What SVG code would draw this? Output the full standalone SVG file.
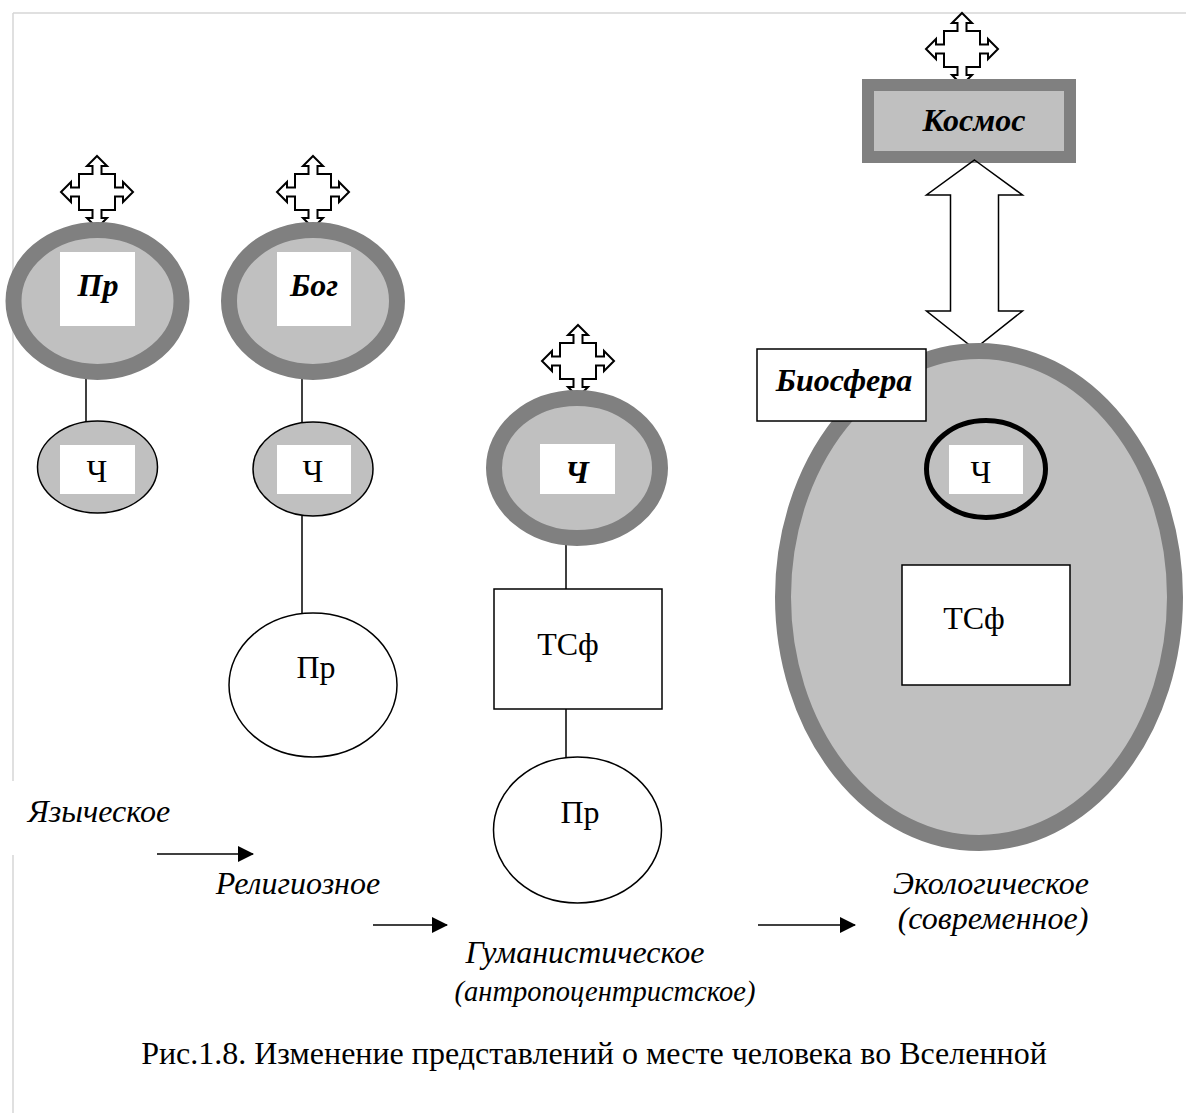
<svg xmlns="http://www.w3.org/2000/svg" width="1186" height="1113" viewBox="0 0 1186 1113">
<style>
.page{stroke:#d6d6d6;stroke-width:1.5;fill:none}
.outer{fill:#c0c0c0;stroke:#808080;stroke-width:16}
.small{fill:#c0c0c0;stroke:#000;stroke-width:1.5}
.plain{fill:#fff;stroke:#000;stroke-width:1.5}
.lbl{fill:#fff;stroke:none}
.conn{stroke:#000;stroke-width:1.5;fill:none}
.quad{fill:#fff;stroke:#000;stroke-width:2;stroke-linejoin:miter}
.bi{font-family:"Liberation Serif","Times New Roman",serif;font-weight:bold;font-style:italic;font-size:32px;fill:#000;text-anchor:middle}
.rg{font-family:"Liberation Serif","Times New Roman",serif;font-size:32px;fill:#000;text-anchor:middle}
.it{font-family:"Liberation Serif","Times New Roman",serif;font-style:italic;font-size:32px;fill:#000;text-anchor:middle}
</style>
<defs>
<path id="quad" class="quad" d="M0,-36 L10,-26 L4.5,-26 L4.5,-18 L18,-18 L18,-4.5 L26,-4.5 L26,-10 L36,0 L26,10 L26,4.5 L18,4.5 L18,18 L4.5,18 L4.5,26 L10,26 L0,36 L-10,26 L-4.5,26 L-4.5,18 L-18,18 L-18,4.5 L-26,4.5 L-26,10 L-36,0 L-26,-10 L-26,-4.5 L-18,-4.5 L-18,-18 L-4.5,-18 L-4.5,-26 L-10,-26 Z"/>
<marker id="ah" markerWidth="16" markerHeight="16" refX="15" refY="8" orient="auto" markerUnits="userSpaceOnUse">
<path d="M0,0 L16,8 L0,16 Z" fill="#000"/>
</marker>
</defs>

<g id="page-border">
<line class="page" x1="13" y1="13" x2="1186" y2="13"/>
<line class="page" x1="13" y1="13" x2="13" y2="781"/>
<line class="page" x1="13" y1="855" x2="13" y2="1113"/>
</g>

<g id="connectors">
<line class="conn" x1="86" y1="372" x2="86" y2="421"/>
<line class="conn" x1="302" y1="372" x2="302" y2="422"/>
<line class="conn" x1="302" y1="516" x2="302" y2="613"/>
<line class="conn" x1="566" y1="541" x2="566" y2="589"/>
<line class="conn" x1="566" y1="709" x2="566" y2="757"/>
<line class="conn" x1="974" y1="519" x2="974" y2="565"/>
<line class="conn" x1="157" y1="854" x2="253" y2="854" marker-end="url(#ah)"/>
<line class="conn" x1="373" y1="925" x2="447" y2="925" marker-end="url(#ah)"/>
<line class="conn" x1="758" y1="925" x2="855" y2="925" marker-end="url(#ah)"/>
</g>

<g id="pagan-pr">
<use href="#quad" x="97" y="192"/>
<ellipse class="outer" cx="97.5" cy="301" rx="84" ry="71"/>
<rect class="lbl" x="60" y="252" width="75" height="74"/>
<text class="bi" x="98" y="296">Пр</text>
</g>
<g id="pagan-ch">
<ellipse class="small" cx="97.5" cy="467" rx="60" ry="46"/>
<rect class="lbl" x="60" y="445" width="75" height="49"/>
<text class="rg" x="97" y="482">Ч</text>
</g>

<g id="rel-bog">
<use href="#quad" x="313" y="192"/>
<ellipse class="outer" cx="313" cy="301" rx="84" ry="71"/>
<rect class="lbl" x="277" y="252" width="74" height="74"/>
<text class="bi" x="314" y="296">Бог</text>
</g>
<g id="rel-ch">
<ellipse class="small" cx="313" cy="469" rx="60" ry="47"/>
<rect class="lbl" x="277" y="445" width="74" height="49"/>
<text class="rg" x="313" y="482">Ч</text>
</g>
<g id="rel-pr">
<ellipse class="plain" cx="313" cy="685" rx="84" ry="72"/>
<text class="rg" x="316" y="678">Пр</text>
</g>

<g id="hum-ch">
<use href="#quad" x="578" y="361"/>
<ellipse class="outer" cx="577" cy="468" rx="83" ry="70"/>
<rect class="lbl" x="540" y="444" width="75" height="50"/>
<text class="bi" x="577" y="483">Ч</text>
</g>
<g id="hum-tsf">
<rect class="plain" x="494" y="589" width="168" height="120"/>
<text class="rg" x="568" y="655">ТСф</text>
</g>
<g id="hum-pr">
<ellipse class="plain" cx="577.5" cy="830" rx="84" ry="73"/>
<text class="rg" x="580" y="823">Пр</text>
</g>

<g id="eco-kosmos">
<use href="#quad" x="962" y="49"/>
<rect x="868" y="85" width="202" height="72" fill="#c0c0c0" stroke="#808080" stroke-width="12"/>
<text class="bi" x="974" y="131">Космос</text>
</g>
<g id="eco-biosphere">
<path class="conn" d="M974.5,160 L1022.5,195 L998.5,195 L998.5,311 L1022.5,311 L974.5,349 L926.5,311 L950.5,311 L950.5,195 L926.5,195 Z" fill="#fff" stroke-width="2"/>
<ellipse class="outer" cx="979" cy="597" rx="196" ry="246"/>
<rect class="plain" x="757" y="349" width="169" height="72"/>
<text class="bi" x="844" y="391">Биосфера</text>
</g>
<g id="eco-ch">
<ellipse cx="986" cy="469" rx="59.5" ry="48.5" fill="#c0c0c0" stroke="#000" stroke-width="5"/>
<rect class="lbl" x="949" y="445" width="74" height="49"/>
<text class="rg" x="981" y="483">Ч</text>
</g>
<g id="eco-tsf">
<rect class="plain" x="902" y="565" width="168" height="120"/>
<text class="rg" x="974" y="629">ТСф</text>
</g>

<g id="labels">
<text class="it" x="99" y="822">Языческое</text>
<text class="it" x="298" y="894">Религиозное</text>
<text class="it" x="585" y="963">Гуманистическое</text>
<text class="it" x="605" y="1001" style="font-size:28.5px">(антропоцентристское)</text>
<text class="it" x="991" y="894">Экологическое</text>
<text class="it" x="993" y="929">(современное)</text>
<text class="rg" x="594" y="1064">Рис.1.8. Изменение представлений о месте человека во Вселенной</text>
</g>
</svg>
